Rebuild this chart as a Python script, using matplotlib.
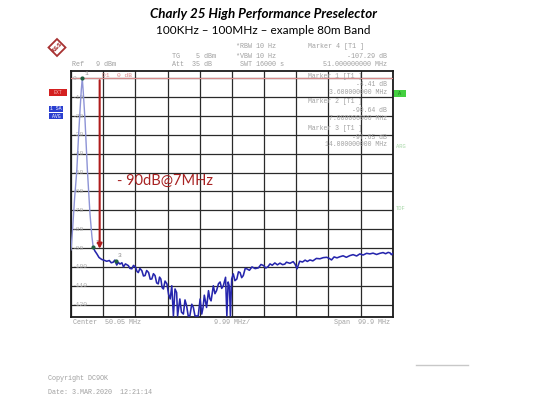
import matplotlib.pyplot as plt
from matplotlib.patches import Polygon, Rectangle

# spectrum analyzer trace (MHz, dB)
freq_mhz = [0.1, 0.6, 1.2, 1.9, 2.4, 2.9, 3.3, 3.6, 3.9, 4.45, 5.2, 6.0, 6.6, 7.0,
            7.5, 8.1, 8.8, 9.6, 10.4, 11.2, 12.0, 12.6, 13.2, 13.7, 14.3, 14.8, 15.3, 15.9,
            16.4, 17.0, 17.9, 18.4, 19.0, 19.5, 20.1, 20.6, 21.0, 21.5, 22.1, 22.6, 23.1,
            23.6, 24.2, 24.7, 25.2, 25.7, 26.2, 26.7, 27.2, 27.6, 28.0, 28.4, 28.8, 29.3,
            29.9, 30.4, 30.9, 31.4, 31.9, 32.4, 32.9, 33.2, 33.9, 34.4, 35.0, 35.5, 36.0,
            36.5, 37.0, 37.6, 38.1, 38.6, 39.1, 39.6, 40.2, 40.7, 41.1, 41.5, 42.2, 42.8,
            43.2, 43.6, 44.3, 44.8, 45.3, 45.9, 46.4, 46.9, 47.4, 48.1, 48.5, 48.9, 49.3,
            49.6, 50.0, 50.5, 51.0, 51.6, 52.1, 52.6, 53.1, 53.6, 54.2, 54.7, 55.5, 56.3,
            57.3, 58.3, 59.1, 59.9, 60.6, 61.3, 61.9, 62.6, 63.4, 64.2, 65.0, 65.8, 66.5,
            67.0, 68.1, 69.1, 69.7, 70.3, 71.1, 72.0, 72.8, 73.5, 74.3, 75.2, 76.3, 77.4,
            78.4, 79.5, 80.2, 81.0, 81.8, 82.7, 83.6, 84.6, 85.6, 86.7, 87.7, 88.8, 89.8,
            90.8, 91.9, 92.9, 93.9, 95.0, 96.0, 97.0, 97.8, 98.6, 99.2, 99.6, 100.0]
level_db = [-91, -80, -64, -49, -32, -17, -6, 0, -7, -22, -49, -72, -84, -89.6,
            -91.5, -93, -95, -96, -96.5, -97, -96.6, -97.8, -97.5, -96.4, -99, -97.6, -98.5, -97.8,
            -100, -98.4, -99.3, -100.8, -101, -99.2, -100, -102.4, -103, -100.8, -102, -104.8, -104.6,
            -101.9, -103, -106.5, -106.4, -103.6, -104.6, -108.5, -109, -105.4, -106.4, -111, -111.7, -107.5,
            -109, -114.5, -117, -110, -126, -111.7, -113.6, -126, -117, -124, -125, -117.5, -120.6,
            -126, -126, -119.8, -121.5, -126, -126, -126, -117, -125, -121.6, -115, -121.5, -112.6,
            -116.8, -118, -110, -114.2, -112.6, -108.9, -108, -111.4, -110, -105.5, -126, -108, -110.5,
            -126, -106.4, -103.7, -107.3, -106.4, -102.6, -103, -105.7, -104.6, -100.8, -101, -101.8, -100,
            -100.9, -100.5, -98.7, -99.3, -100.6, -99.8, -98.4, -99.1, -97.9, -98.9, -98, -98.8, -98.5,
            -97.5, -98.1, -97.2, -98.6, -101, -97, -97.4, -96.4, -97.1, -96.3, -96.8, -95.5, -95.7,
            -95.1, -94.9, -95.4, -96.3, -94.7, -95.2, -94.6, -94.1, -94.9, -94, -93.5, -94.2, -93.1,
            -93.7, -92.8, -93.1, -92.7, -93.4, -92.8, -92.4, -93, -92.3, -92.6, -93.5, -92.9]

center_mhz = 50.05
span_mhz = 99.9
db_ticks = [0, -10, -20, -30, -40, -50, -60, -70, -80, -90, -100, -110, -120]

marker_freqs = [3.6, 7.0, 14.0]
marker_levels = [0, -89.6, -97.0]
marker_names = ['1', '2', '3']

arrow_freq = 9.0
arrow_top = -1.0
arrow_bottom = -90.4

W, H = 540, 405
fig = plt.figure(figsize=(5.4, 4.05), dpi=100)
fig.patch.set_facecolor('white')


def fx(x):
    return x / W


def fy(y):
    return 1 - y / H


mono = 'Liberation Mono'
gray = '#a0a0a0'

ax = fig.add_axes([fx(71), fy(316.5), fx(392.7) - fx(71), fy(71) - fy(316.5)])
f0 = center_mhz - span_mhz / 2
f1 = center_mhz + span_mhz / 2
ax.set_xlim(f0, f1)
ax.set_ylim(-126.3, 3.9)
ax.set_xticks([f0 + k * span_mhz / 10 for k in range(11)])
ax.set_yticks(db_ticks)
ax.grid(True, color='#2a2a2a', lw=0.9)
ax.tick_params(length=0, labelbottom=False, labelleft=False)
for s in ax.spines.values():
    s.set_color('#1a1a1a')
    s.set_linewidth(1.3)

# display line
ax.axhline(0, color='#d88a8a', lw=0.8, zorder=3)
ax.text(9.6, 0.4, 'D1  0 dB', color='#d88a8a', fontsize=4.5, family=mono, va='bottom')

for v in db_ticks:
    ax.text(0.006, v, str(v), transform=ax.get_yaxis_transform(), color='#a8a8a8',
            fontsize=4.5, family=mono, va='center', ha='left', zorder=4)

# trace: peak part lighter, rest dark blue
n_peak = 14
ax.plot(freq_mhz[:n_peak], level_db[:n_peak], color='#8d93d6', lw=1.0, zorder=5)
ax.plot(freq_mhz[n_peak - 1:], level_db[n_peak - 1:], color='#2626ad', lw=1.15, zorder=5)

for f, l, n in zip(marker_freqs, marker_levels, marker_names):
    ax.plot(f, l, 'o', ms=2, color='#1f5f3f', zorder=6)
    ax.text(f + 0.6, l + 2, n, color='#8a8a8a', fontsize=4.5, family=mono, zorder=6)

ax.annotate('', xy=(arrow_freq, arrow_bottom), xytext=(arrow_freq, arrow_top),
            arrowprops=dict(arrowstyle='-|>', color='#b01c1c', lw=1.5,
                            mutation_scale=7, shrinkA=0, shrinkB=0), zorder=7)
ax.text(14.4, -54.5, '- 90dB@7MHz', color='#a82222', fontsize=10.5, family='Lato',
        va='center', ha='left', zorder=7)

# marker readouts inside the grid
inner = [('Marker 1 [T1 ]', 308, 77, 'left'), ('-4.41 dB', 387, 85, 'right'),
         ('3.600000000 MHz', 387, 93, 'right'), ('Marker 2 [T1 ]', 308, 102, 'left'),
         ('-90.64 dB', 387, 111, 'right'), ('7.000000000 MHz', 387, 119, 'right'),
         ('Marker 3 [T1 ]', 308, 128, 'left'), ('-97.65 dB', 387, 137, 'right'),
         ('14.000000000 MHz', 387, 145, 'right')]
for t, x, y, ha in inner:
    fig.text(fx(x), fy(y), t, color=gray, fontsize=4.7, family=mono, ha=ha, va='center', zorder=8)

# header
header = [('Ref   9 dBm', 72, 64, 'left'), ('TG    5 dBm', 172, 56, 'left'),
          ('Att  35 dB', 172, 64, 'left'), ('*RBW 10 Hz', 236, 46, 'left'),
          ('*VBW 10 Hz', 236, 56, 'left'), (' SWT 16000 s', 236, 64.5, 'left'),
          ('Marker 4 [T1 ]', 308, 46, 'left'), ('-107.29 dB', 387, 56, 'right'),
          ('51.000000000 MHz', 387, 64.5, 'right'),
          ('Center  50.05 MHz', 73, 323, 'left'), ('9.99 MHz/', 214, 323, 'left'),
          ('Span  99.9 MHz', 390, 323, 'right'),
          ('Copyright DC9OK', 48, 378, 'left'), ('Date: 3.MAR.2020  12:21:14', 48, 392, 'left')]
for t, x, y, ha in header:
    fig.text(fx(x), fy(y), t, color=gray, fontsize=4.9, family=mono, ha=ha, va='center')

fig.text(fx(263), fy(14), 'Charly 25 High Performance Preselector', fontsize=9.6,
         fontweight='bold', style='italic', family='Lato', ha='center', va='center')
fig.text(fx(263), fy(30), '100KHz \u2013 100MHz \u2013 example 80m Band', fontsize=8.5,
         family='Lato', ha='center', va='center')

# side status boxes
fig.patches.append(Rectangle((fx(49), fy(95.5)), fx(18), fy(89) - fy(95.5), transform=fig.transFigure,
                             facecolor='#d42020', edgecolor='none'))
fig.patches.append(Rectangle((fx(49), fy(112)), fx(14), fy(106) - fy(112), transform=fig.transFigure,
                             facecolor='#2a3fd0', edgecolor='none'))
fig.patches.append(Rectangle((fx(49), fy(119)), fx(14), fy(113.5) - fy(119), transform=fig.transFigure,
                             facecolor='#2a3fd0', edgecolor='none'))
fig.text(fx(56), fy(109), '1 SA', color='white', fontsize=3.5, family=mono, ha='center', va='center')
fig.text(fx(56), fy(116.3), 'AVG', color='white', fontsize=3.5, family=mono, ha='center', va='center')
fig.text(fx(58), fy(92.3), 'EXT', color='#f3b0b0', fontsize=3.5, family=mono, ha='center', va='center')
fig.patches.append(Rectangle((fx(394), fy(96.5)), fx(12), fy(90) - fy(96.5), transform=fig.transFigure,
                             facecolor='#44d040', edgecolor='none'))
fig.text(fx(400), fy(93.3), 'A', color='#1a7a1a', fontsize=3.8, family=mono, ha='center', va='center')
fig.text(fx(396), fy(147), 'ARG', color='#a8d8a8', fontsize=4, family=mono, va='center')
fig.text(fx(396), fy(209), 'TDF', color='#a8d8a8', fontsize=4, family=mono, va='center')

# R&S logo
cx, cy, r = 57, 47.5, 8.5
fig.patches.append(Polygon([(fx(cx), fy(cy - r)), (fx(cx + r), fy(cy)), (fx(cx), fy(cy + r)),
                            (fx(cx - r), fy(cy))], closed=True, transform=fig.transFigure,
                           facecolor='white', edgecolor='#a83232', lw=1.3))
fig.text(fx(cx), fy(cy), 'R&S', color='#a83232', fontsize=4, rotation=45, fontweight='bold',
         ha='center', va='center')

fig.lines.append(plt.Line2D([fx(416), fx(468)], [fy(365), fy(365)], transform=fig.transFigure,
                            color='#c8c8c8', lw=1.0))

fig.savefig('out.png', dpi=100)
